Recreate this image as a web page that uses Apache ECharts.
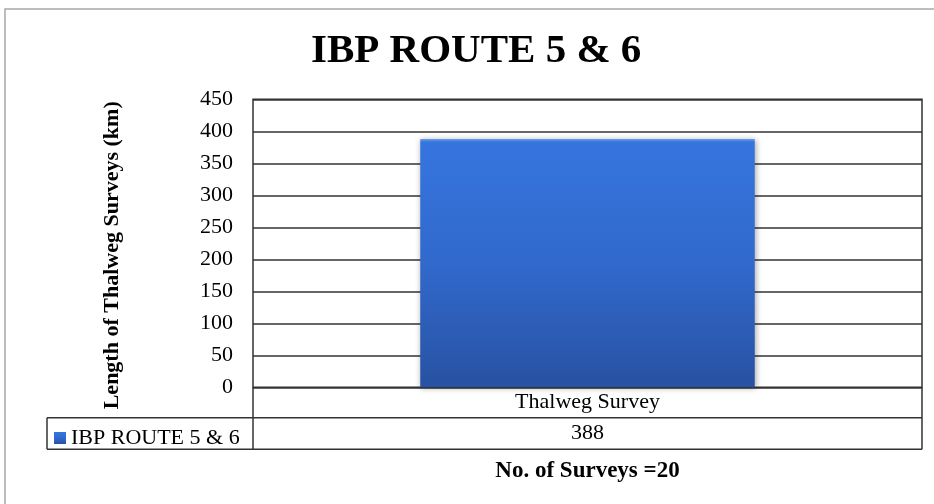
<!DOCTYPE html>
<html>
<head>
<meta charset="utf-8">
<script src="https://cdn.jsdelivr.net/npm/echarts@6/dist/echarts.min.js"></script>
<style>
  html, body { margin: 0; padding: 0; background: #fff; }
  #main { width: 934px; height: 504px; }
</style>
</head>
<body>
<div id="main"></div>
<script>
// 数据
const categories = ['Thalweg Survey'];
const seriesName = 'IBP ROUTE 5 & 6';
const lengthKm = [388];
const surveyCount = 20;

const serif = '"Liberation Serif", "Times New Roman", serif';
const lineColor = '#333';

const myChart = echarts.init(document.getElementById('main'));

const barColor = new echarts.graphic.LinearGradient(0, 0, 0, 1, [
  { offset: 0, color: '#6a9ff0' },
  { offset: 0.012, color: '#3675de' },
  { offset: 0.5, color: '#3169cc' },
  { offset: 1, color: '#2852a2' }
]);

let option = {
  animation: false,
  backgroundColor: '#fff',
  title: {
    text: 'IBP ROUTE 5 & 6',
    left: 306,
    top: 26,
    textStyle: { fontFamily: serif, fontSize: 41, fontWeight: 'bold', color: '#000' }
  },
  legend: {
    left: 49,
    top: 422,
    icon: 'rect',
    itemWidth: 12,
    itemHeight: 12,
    textStyle: { fontFamily: serif, fontSize: 22, color: '#000' },
    data: [seriesName]
  },
  grid: {
    left: 253,
    top: 99.3,
    width: 669,
    height: 288,
    show: true,
    borderColor: lineColor,
    borderWidth: 1.5
  },
  xAxis: [{
    type: 'category',
    data: categories,
    axisLine: { show: false },
    axisTick: { show: false },
    axisLabel: {
      fontFamily: serif, fontSize: 22, color: '#000',
      verticalAlign: 'middle', margin: 15
    }
  }, {
    type: 'category',
    data: categories,
    position: 'bottom',
    offset: 30.4,
    axisLine: { show: false },
    axisTick: { show: false },
    axisLabel: {
      fontFamily: serif, fontSize: 22, color: '#000',
      verticalAlign: 'middle', margin: 16,
      formatter: function (v, i) { return String(lengthKm[i]); }
    },
    name: 'No. of Surveys =' + surveyCount,
    nameLocation: 'middle',
    nameGap: 53,
    nameTextStyle: {
      fontFamily: serif, fontSize: 23, fontWeight: 'bold', color: '#000',
      verticalAlign: 'middle'
    }
  }],
  yAxis: {
    type: 'value',
    min: 0,
    max: 450,
    interval: 50,
    axisLine: { show: false },
    axisTick: { show: false },
    splitLine: { lineStyle: { color: lineColor, width: 1.5 } },
    axisLabel: { fontFamily: serif, fontSize: 22, color: '#000', margin: 20 },
    name: 'Length of Thalweg Surveys (km)',
    nameLocation: 'middle',
    nameRotate: 90,
    nameGap: 130,
    nameTextStyle: {
      fontFamily: serif, fontSize: 22, fontWeight: 'bold', color: '#000',
      padding: [0, 24, 0, 0]
    }
  },
  series: [{
    name: seriesName,
    type: 'bar',
    xAxisIndex: 0,
    data: lengthKm,
    barWidth: '50%',
    itemStyle: {
      color: barColor,
      shadowBlur: 6,
      shadowColor: 'rgba(0,0,0,0.35)',
      shadowOffsetX: 1,
      shadowOffsetY: 1
    }
  }],
  // 外框 + 数据表格线
  graphic: [
    { type: 'rect', silent: true, shape: { x: 5, y: 9, width: 1000, height: 1000 },
      style: { fill: 'none', stroke: '#a8a8a8', lineWidth: 1.5 } },
    { type: 'line', silent: true, shape: { x1: 47, y1: 417.7, x2: 922, y2: 417.7 },
      style: { stroke: lineColor, lineWidth: 1.5 } },
    { type: 'line', silent: true, shape: { x1: 47, y1: 449.3, x2: 922, y2: 449.3 },
      style: { stroke: lineColor, lineWidth: 1.5 } },
    { type: 'line', silent: true, shape: { x1: 47, y1: 417.7, x2: 47, y2: 449.3 },
      style: { stroke: lineColor, lineWidth: 1.5 } },
    { type: 'line', silent: true, shape: { x1: 253, y1: 387.3, x2: 253, y2: 449.3 },
      style: { stroke: lineColor, lineWidth: 1.5 } },
    { type: 'line', silent: true, shape: { x1: 922, y1: 387.3, x2: 922, y2: 449.3 },
      style: { stroke: lineColor, lineWidth: 1.5 } }
  ]
};

myChart.setOption(option);
</script>
</body>
</html>
